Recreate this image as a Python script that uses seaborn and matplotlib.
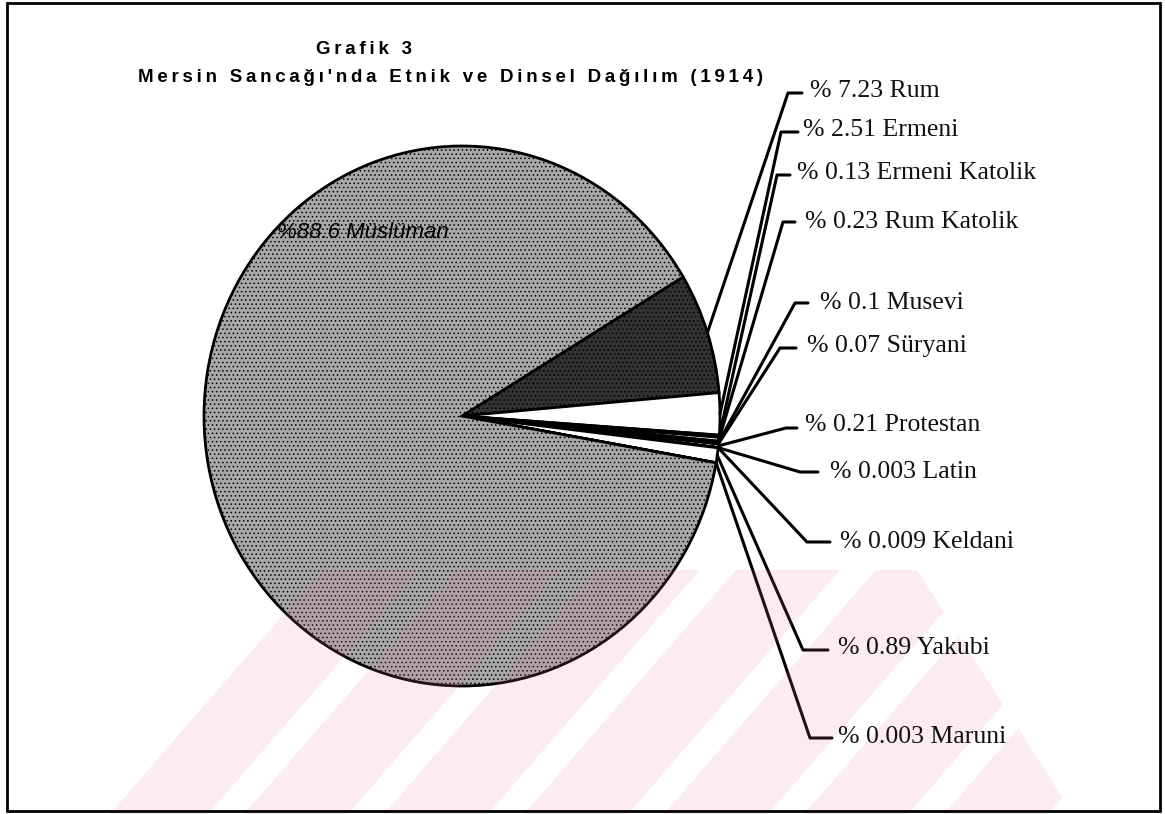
#Mersin Sancağı etnik ve dinsel dağılım (1914) - pasta grafik

import numpy as np
import matplotlib
matplotlib.use('Agg')
import matplotlib.pyplot as plt
import matplotlib.patches as mpatches
import seaborn as sb

#veri (yuzde)
gruplar = ['Rum', 'Ermeni', 'Ermeni Katolik', 'Rum Katolik', 'Musevi', 'Süryani',
           'Protestan', 'Latin', 'Keldani', 'Yakubi', 'Maruni', 'Müslüman']
oranlar = [7.23, 2.51, 0.13, 0.23, 0.1, 0.07, 0.21, 0.003, 0.009, 0.89, 0.003, 88.6]
baslik1 = 'Grafik 3'
baslik2 = "Mersin Sancağı'nda Etnik ve Dinsel Dağılım (1914)"

#dilim renkleri
renkler = ['#333333'] + ['white'] * 10 + ['#a8a8a8']

#etiket yerlesimi (piksel): kirilma noktasi, cizgi ucu, yazi x, yazi y
dirsek = [(788, 93), (781, 132), (777, 175), (783, 222), (795, 303), (780, 348),
          (786, 428), (800, 472), (807, 542), (803, 650), (810, 738)]
tik_uc = [802, 798, 790, 795, 808, 796, 797, 818, 830, 828, 832]
yazi_x = [810, 803, 797, 805, 820, 807, 805, 830, 840, 838, 838]
yazi_y = [91, 130, 173, 222, 303, 346, 425, 472, 542, 648, 737]

sb.set_theme(style='white')
plt.rcParams['hatch.linewidth'] = 0.6

fig = plt.figure(figsize=(11.65, 8.14), dpi=100)
ax = fig.add_axes([0, 0, 1, 1])

#piksel -> veri koordinati (pasta hafif elips)
CX, CY, RX, RY = 462, 416, 258, 270
def px(x, y):
    return (x - CX) / RX, (CY - y) / RY

wedges, _ = ax.pie(oranlar, colors=renkler, startangle=31, counterclock=False,
                   wedgeprops=dict(edgecolor='black', linewidth=2))
wedges[0].set_hatch('....')
wedges[-1].set_hatch('....')
ax.set_aspect('auto')
ax.set_xlim(px(0, 0)[0], px(1165, 0)[0])
ax.set_ylim(px(0, 814)[1], px(0, 0)[1])
ax.axis('off')

#etiketler ve cizgiler
for w, g, v, (ex, ey), te, tx, ty in zip(wedges[:-1], gruplar, oranlar, dirsek, tik_uc, yazi_x, yazi_y):
    a = np.deg2rad((w.theta1 + w.theta2) / 2)
    x1, y1 = px(ex, ey)
    x2, y2 = px(te, ey)
    ax.plot([np.cos(a), x1, x2], [np.sin(a), y1, y2], color='black', lw=2.2, zorder=4)
    ax.text(*px(tx, ty), f'% {v:g} {g}', ha='left', va='center', fontsize=18.5,
            family='Liberation Serif', color='#111111', zorder=7)

ax.text(*px(363, 233), f'%{oranlar[-1]:g} {gruplar[-1]}', ha='center', va='center',
        fontsize=16, style='italic', family='Liberation Sans', color='black', zorder=7)

#basliklar (harf aralikli)
def aralikli(s):
    return '\u2009'.join(s)
ax.text(*px(364, 50), aralikli(baslik1), ha='center', va='center', fontsize=13.5,
        weight='bold', color='black', family=['Liberation Sans', 'DejaVu Sans'], zorder=7)
ax.text(*px(451, 77), aralikli(baslik2), ha='center', va='center', fontsize=13.5,
        weight='bold', color='black', family=['Liberation Sans', 'DejaVu Sans'], zorder=7)

#cerceve
x0, y0 = px(7, 811)
ax.add_patch(mpatches.Rectangle((x0, y0), (1160 - 7) / RX, (811 - 3) / RY, fill=False,
                                edgecolor='black', lw=2, clip_on=False, zorder=8))

#soluk filigran (taranmis sayfa)
trap = mpatches.Polygon([px(110, 814), px(322, 570), px(917, 570), px(1073, 814)],
                        closed=True, transform=ax.transData)
for s in range(104, 1100, 140):
    band = mpatches.Polygon([px(s, 814), px(s + 104, 814), px(s + 316, 570), px(s + 212, 570)],
                            closed=True, facecolor='#f07890', edgecolor='none', alpha=0.14, zorder=5)
    ax.add_patch(band)
    band.set_clip_path(trap)

fig.savefig('out.png', dpi=100)
